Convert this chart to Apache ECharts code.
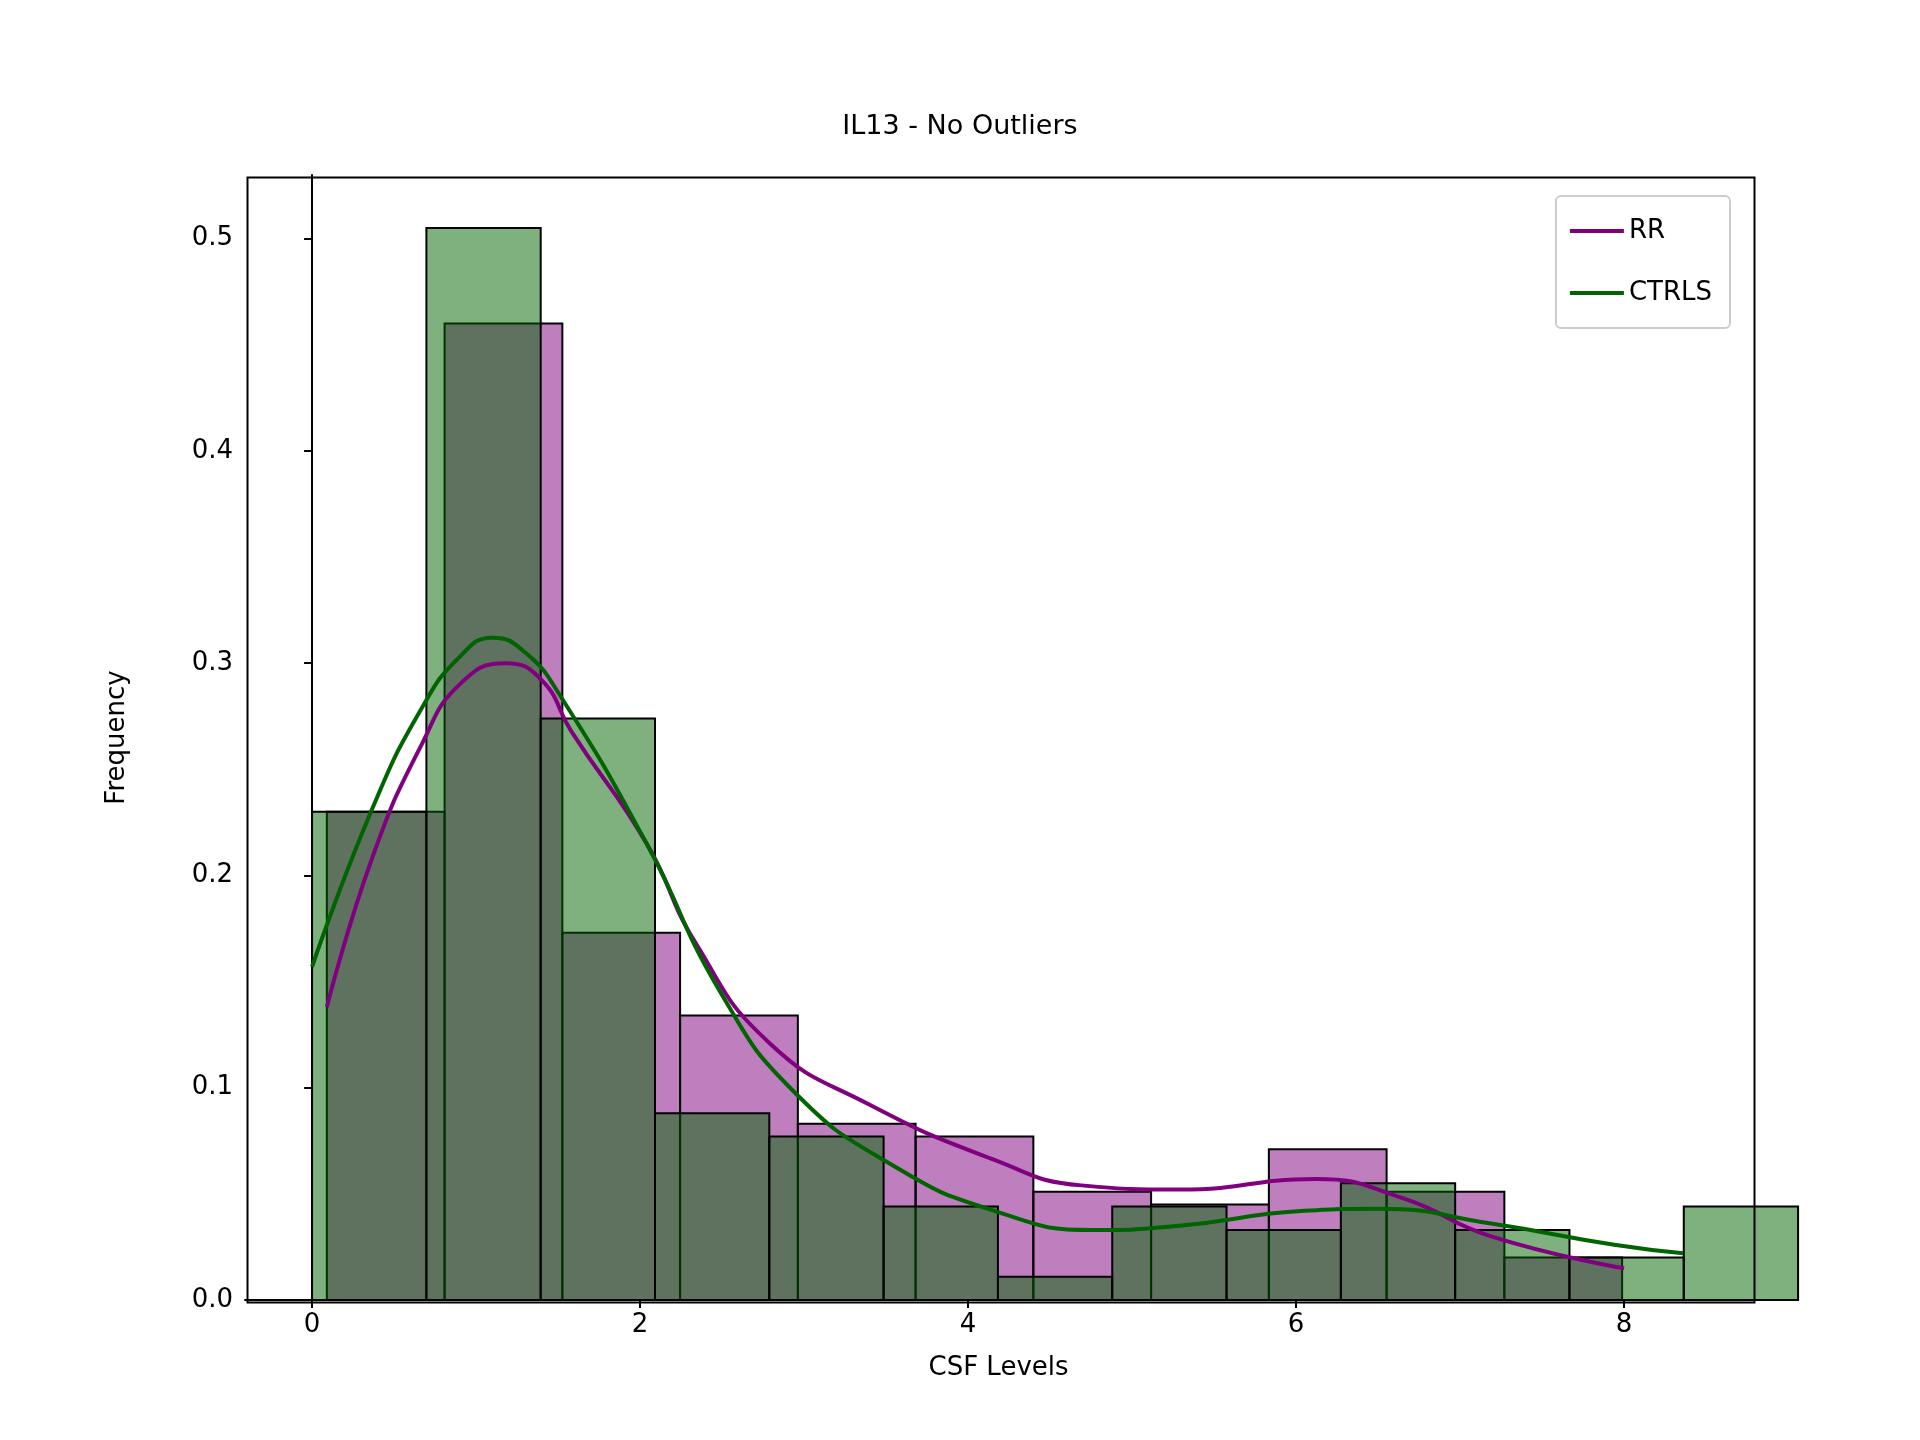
<html>
<head>
<meta charset="UTF-8">
<script src="https://cdn.jsdelivr.net/npm/echarts@6/dist/echarts.min.js"></script>
</head>
<body style="margin:0">
<div id="main" style="width:1920px;height:1440px;"></div>
<script>
// histogram bins: start, width, heights
var rrStart = 0.09, rrWidth = 0.718;
var rrHeights = [0.23, 0.46, 0.173, 0.134, 0.083, 0.077, 0.051, 0.045, 0.071, 0.051, 0.020];
var ctStart = 0.0, ctWidth = 0.697;
var ctHeights = [0.23, 0.505, 0.274, 0.088, 0.077, 0.044, 0.011, 0.044, 0.033, 0.055, 0.033, 0.020, 0.044];
// kde curves
var rrKde = [[0.09,0.138],[0.37,0.209],[0.67,0.262],[0.9,0.29],[1.18,0.300],[1.4,0.292],[1.58,0.268],[2.04,0.215],[2.34,0.168],[2.79,0.121],[3.40,0.092],[4.16,0.066],[4.69,0.054],[5.29,0.052],[6.12,0.057],[6.65,0.048],[7.19,0.030],[8.0,0.015]];
var ctKde = [[0,0.157],[0.37,0.232],[0.67,0.279],[0.9,0.303],[1.10,0.312],[1.3,0.305],[1.51,0.285],[2.04,0.215],[2.49,0.145],[2.94,0.098],[3.55,0.063],[4.16,0.042],[4.76,0.033],[5.29,0.035],[6.05,0.042],[6.5,0.043],[7.19,0.036],[7.94,0.026],[8.36,0.022]];
var xTicks = [0, 2, 4, 6, 8];

function bins(start, w, h) {
    return h.map(function (v, i) { return [start + i * w, start + (i + 1) * w, v]; });
}
function histSeries(name, data, color) {
    return {
        name: name, type: 'custom', data: data, z: 2,
        renderItem: function (params, api) {
            var p0 = api.coord([api.value(0), api.value(2)]);
            var p1 = api.coord([api.value(1), 0]);
            return {
                type: 'rect',
                shape: { x: p0[0], y: p0[1], width: p1[0] - p0[0], height: p1[1] - p0[1] },
                style: { fill: color, stroke: '#000', lineWidth: 2 }
            };
        }
    };
}

var myChart = echarts.init(document.getElementById('main'));
var font = 'DejaVu Sans';
myChart.setOption({
    animation: false,
    backgroundColor: '#fff',
    title: { text: 'IL13 - No Outliers', left: 'center', top: 108,
        textStyle: { fontFamily: font, fontSize: 27, fontWeight: 'normal', color: '#000' } },
    legend: {
        data: ['RR', 'CTRLS'], orient: 'vertical', right: 190, top: 196,
        itemWidth: 54, itemHeight: 4, icon: 'rect', itemGap: 36,
        padding: [22, 18, 22, 14], borderColor: '#ccc', borderWidth: 2, borderRadius: 5,
        textStyle: { fontFamily: font, fontSize: 26, color: '#000' }
    },
    grid: { left: 245, right: 168, top: 175, bottom: 140 },
    xAxis: {
        type: 'value', min: -0.409, max: 8.78,
        name: 'CSF Levels', nameLocation: 'middle', nameGap: 55,
        nameTextStyle: { fontFamily: font, fontSize: 26, color: '#000' },
        axisLine: { lineStyle: { color: '#000', width: 2 } },
        axisTick: { customValues: xTicks, length: 8, lineStyle: { color: '#000', width: 2 } },
        axisLabel: { customValues: xTicks, fontFamily: font, fontSize: 26, color: '#000', margin: 12 },
        splitLine: { show: false }
    },
    yAxis: {
        type: 'value', min: 0, max: 0.53, interval: 0.1,
        name: 'Frequency', nameLocation: 'middle', nameGap: 115,
        nameTextStyle: { fontFamily: font, fontSize: 26, color: '#000' },
        axisLine: { show: true, lineStyle: { color: '#000', width: 2 } },
        axisTick: { show: true, length: 8, lineStyle: { color: '#000', width: 2 } },
        axisLabel: { fontFamily: font, fontSize: 26, color: '#000', margin: 12, showMaxLabel: false,
            formatter: function (v) { return v.toFixed(1); } },
        splitLine: { show: false }
    },
    series: [
        histSeries('RR hist', bins(rrStart, rrWidth, rrHeights), 'rgba(128,0,128,0.5)'),
        histSeries('CTRLS hist', bins(ctStart, ctWidth, ctHeights), 'rgba(0,100,0,0.5)'),
        { name: 'RR', type: 'line', data: rrKde, smooth: 0.5, showSymbol: false, z: 5,
          color: '#800080', lineStyle: { width: 4, color: '#800080' } },
        { name: 'CTRLS', type: 'line', data: ctKde, smooth: 0.5, showSymbol: false, z: 5,
          color: '#006400', lineStyle: { width: 4, color: '#006400' } },
        { type: 'line', data: [], markLine: {} }
    ],
    graphic: [{ type: 'rect', left: 245, top: 175, shape: { width: 1507, height: 1125 },
        style: { fill: 'none', stroke: '#000', lineWidth: 2 }, z: 10, silent: true }]
});
</script>
</body>
</html>
